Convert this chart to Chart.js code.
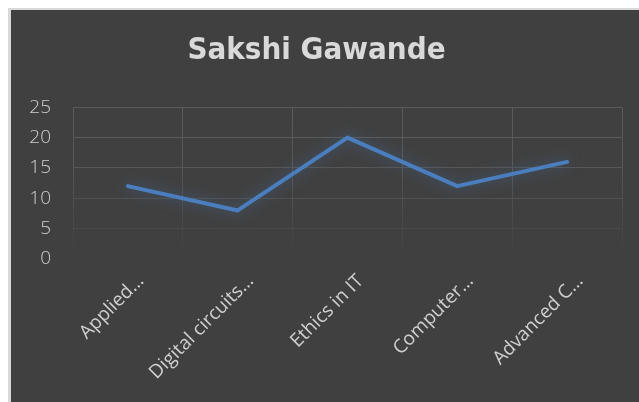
<!DOCTYPE html>
<html>
<head>
<meta charset="utf-8">
<script src="https://cdn.jsdelivr.net/npm/chart.js@4"></script>
<style>
    body { margin: 0; background: #ffffff; }
    #frame {
        position: absolute; left: 8px; top: 8px;
        width: 628px; height: 392px;
        border-left: 3px solid #d9d9d9; border-top: 2px solid #d9d9d9;
        background: #404040;
    }
    #grafico { display: block; }
</style>
</head>
<body>
<div id="frame"><canvas id="grafico" width="628" height="392"></canvas></div>
<script>
// Dados do grafico
const titulo = 'Sakshi Gawande';
const disciplinas = ['Applied…', 'Digital circuits…', 'Ethics in IT', 'Computer…', 'Advanced C…'];
const notas = [12, 8, 20, 12, 16];
const eixoY = { min: 0, max: 25, passo: 5 };

// cor das linhas de grade horizontais (somem em direcao a base)
const corGradeY = { 25: '#5a5a5a', 20: '#5a5a5a', 15: '#575757', 10: '#515151', 5: '#494949', 0: 'rgba(0,0,0,0)' };

function gradienteVertical(ctx) {
    const area = ctx.chart.chartArea;
    if (!area) return '#5a5a5a';
    const g = ctx.chart.ctx.createLinearGradient(0, area.top, 0, area.bottom);
    g.addColorStop(0, '#5a5a5a');
    g.addColorStop(0.4, '#575757');
    g.addColorStop(1, '#404040');
    return g;
}

// brilho em volta da linha
const brilho = {
    id: 'brilho',
    beforeDatasetDraw(chart) {
        chart.ctx.save();
        chart.ctx.shadowColor = 'rgba(74,126,191,0.55)';
        chart.ctx.shadowBlur = 14;
    },
    afterDatasetDraw(chart) {
        chart.ctx.restore();
    }
};

const ctx = document.getElementById('grafico').getContext('2d');
new Chart(ctx, {
    type: 'line',
    data: {
        labels: disciplinas,
        datasets: [{
            label: titulo,
            data: notas,
            borderColor: '#4a7ebf',
            borderWidth: 4,
            pointRadius: 0,
            borderCapStyle: 'round',
            borderJoinStyle: 'round',
            tension: 0
        }]
    },
    options: {
        responsive: false,
        animation: false,
        layout: { padding: { left: 0, right: 17, top: 0, bottom: 0 } },
        plugins: {
            legend: { display: false },
            tooltip: { enabled: false },
            title: {
                display: true,
                text: titulo,
                color: '#d9d9d9',
                font: { family: '"DejaVu Sans Condensed", "Liberation Sans Narrow", sans-serif', size: 31, weight: 'bold' },
                padding: { top: 22, bottom: 38 }
            }
        },
        scales: {
            x: {
                offset: true,
                border: { display: false },
                grid: { offset: true, drawTicks: false, color: gradienteVertical, lineWidth: 1 },
                ticks: {
                    color: '#cfcfcf',
                    font: { family: '"Open Sans", sans-serif', size: 19 },
                    minRotation: 45, maxRotation: 45,
                    padding: 11,
                    labelOffset: 13
                },
                afterFit(scale) { scale.height = 143; }
            },
            y: {
                min: eixoY.min, max: eixoY.max,
                border: { display: false },
                grid: { drawTicks: false, color: c => corGradeY[c.tick.value] || '#5a5a5a', lineWidth: 1 },
                ticks: {
                    stepSize: eixoY.passo,
                    color: '#cfcfcf',
                    font: { family: '"Open Sans", sans-serif', size: 19, weight: '300' },
                    padding: 22
                },
                afterFit(scale) { scale.width = 62; }
            }
        }
    },
    plugins: [brilho]
});
</script>
</body>
</html>
